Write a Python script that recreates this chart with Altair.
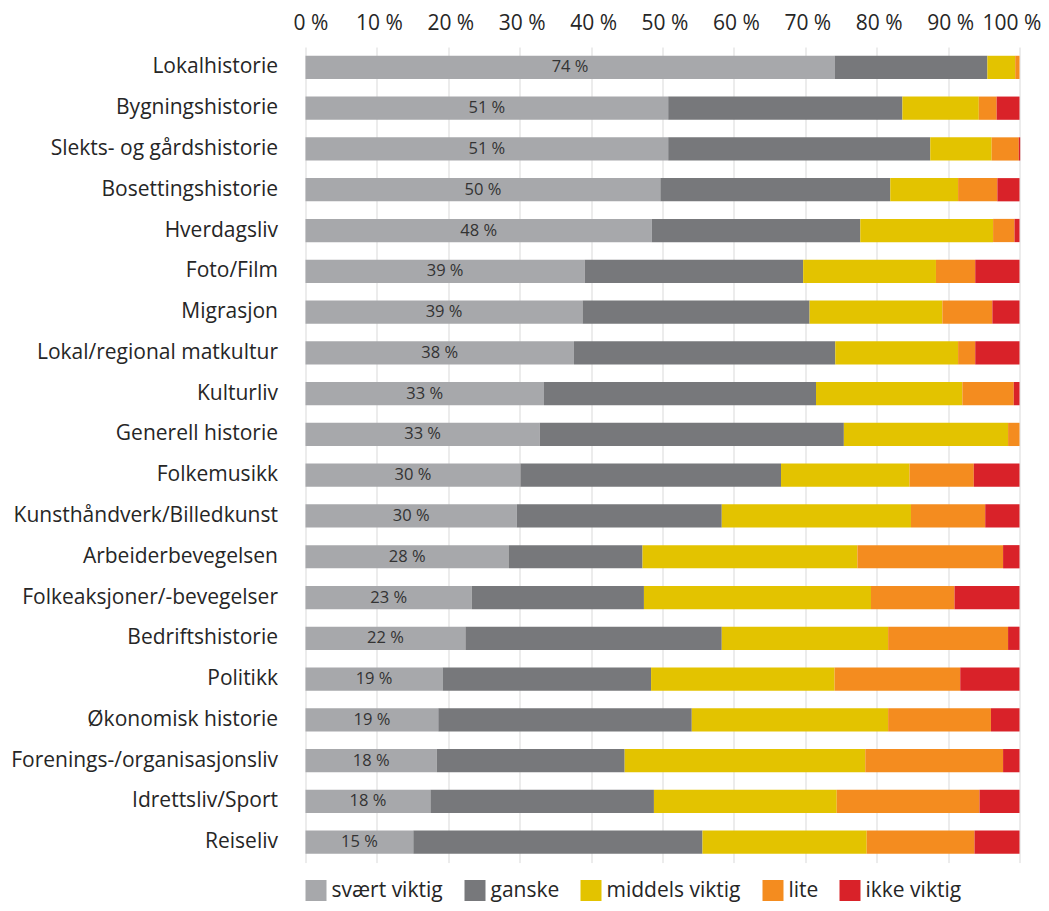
import altair as alt
import pandas as pd

categories = [
    "Lokalhistorie", "Bygningshistorie", "Slekts- og gårdshistorie", "Bosettingshistorie",
    "Hverdagsliv", "Foto/Film", "Migrasjon", "Lokal/regional matkultur", "Kulturliv",
    "Generell historie", "Folkemusikk", "Kunsthåndverk/Billedkunst", "Arbeiderbevegelsen",
    "Folkeaksjoner/-bevegelser", "Bedriftshistorie", "Politikk", "Økonomisk historie",
    "Forenings-/organisasjonsliv", "Idrettsliv/Sport", "Reiseliv",
]
series = ["svært viktig", "ganske", "middels viktig", "lite", "ikke viktig"]
colors = ["#A7A8AB", "#77787B", "#E3C300", "#F48C1F", "#D92229"]

svaert = [74.1, 50.8, 50.8, 49.7, 48.5, 39.1, 38.8, 37.6, 33.4, 32.8, 30.1, 29.6, 28.5, 23.3, 22.4, 19.2, 18.6, 18.4, 17.5, 15.1]
ganske = [21.4, 32.8, 36.7, 32.2, 29.2, 30.6, 31.8, 36.6, 38.1, 42.6, 36.5, 28.7, 18.7, 24.1, 35.9, 29.2, 35.5, 26.3, 31.3, 40.5]
middels = [3.9, 10.7, 8.6, 9.5, 18.6, 18.6, 18.6, 17.2, 20.5, 23.0, 18.0, 26.5, 30.1, 31.8, 23.3, 25.7, 27.5, 33.7, 25.6, 23.0]
lite = [0.6, 2.5, 3.8, 5.5, 3.0, 5.5, 7.0, 2.4, 7.2, 1.6, 9.0, 10.4, 20.4, 11.7, 16.8, 17.6, 14.4, 19.3, 20.0, 15.1]
ikke = [0.0, 3.2, 0.2, 3.1, 0.7, 6.2, 3.8, 6.2, 0.8, 0.0, 6.4, 4.8, 2.3, 9.1, 1.6, 8.3, 4.0, 2.3, 5.6, 6.3]
labels = [74, 51, 51, 50, 48, 39, 39, 38, 33, 33, 30, 30, 28, 23, 22, 19, 19, 18, 18, 15]

rows = []
for i, cat in enumerate(categories):
    vals = [svaert[i], ganske[i], middels[i], lite[i], ikke[i]]
    for j, s in enumerate(series):
        rows.append({
            "category": cat,
            "series": s,
            "order": j,
            "value": vals[j],
            "label": f"{labels[i]} %" if j == 0 else "",
        })
df = pd.DataFrame(rows)

FONT = "Open Sans"
TXT = "#262626"

y_enc = alt.Y(
    "category:N",
    sort=categories,
    scale=alt.Scale(paddingInner=0.43, paddingOuter=0.215),
    axis=alt.Axis(
        title=None, ticks=False, domain=False, labelFont=FONT, labelFontSize=21,
        labelColor=TXT, labelPadding=28, labelLimit=400,
    ),
)

bars = alt.Chart(df).mark_bar().encode(
    y=y_enc,
    x=alt.X(
        "value:Q",
        stack="zero",
        scale=alt.Scale(domain=[0, 100], nice=False),
        axis=alt.Axis(
            orient="top", title=None, values=list(range(0, 101, 10)),
            labelExpr="datum.value + ' %'", grid=True, gridColor="#D9D9D9", gridWidth=1,
            ticks=False, domain=False, labelFont=FONT, labelFontSize=21, labelColor=TXT,
            labelPadding=18, labelBaseline="alphabetic", labelOverlap=False,
            labelFlush=False,
            labelOffset={
                "condition": [
                    {"test": "datum.value == 100", "value": -8},
                    {"test": "datum.value == 0", "value": 5},
                ],
                "value": 2,
            },
        ),
    ),
    color=alt.Color(
        "series:N",
        scale=alt.Scale(domain=series, range=colors),
        legend=alt.Legend(
            title=None, orient="none", legendX=0, legendY=833, direction="horizontal",
            symbolType="square", symbolSize=441, symbolStrokeWidth=0, symbolOpacity=1,
            labelFont=FONT, labelFontSize=21, labelColor=TXT, labelOffset=5,
            columnPadding=21, padding=0,
        ),
    ),
    order=alt.Order("order:Q"),
)

text = alt.Chart(df).transform_filter(
    alt.datum.order == 0
).transform_calculate(
    mid="datum.value / 2"
).mark_text(
    font=FONT, fontSize=16.5, color="#333333", align="center", baseline="middle"
).encode(
    y=y_enc,
    x=alt.X("mid:Q"),
    text="label:N",
)

chart = alt.layer(bars, text).properties(
    width=714,
    height=815.6,
    autosize=alt.AutoSizeParams(type="none"),
    padding={"left": 297.5, "top": 39, "right": 21.5, "bottom": 40.4},
).configure_view(strokeWidth=0)

chart.save("out.html", embed_options={"renderer": "svg", "actions": False})
